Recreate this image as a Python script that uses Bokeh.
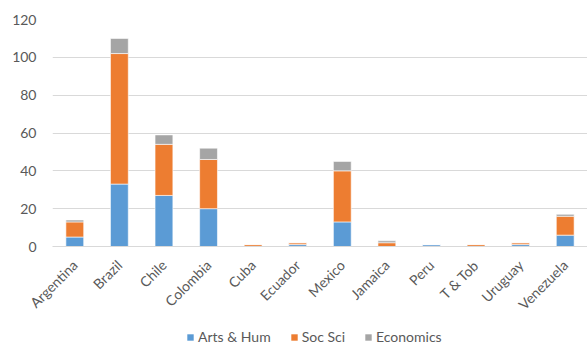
import math
from bokeh.plotting import figure
from bokeh.layouts import column
from bokeh.models import ColumnDataSource, FactorRange, Range1d, FixedTicker, Legend, LegendItem
from bokeh.embed import file_html
from bokeh.resources import INLINE

countries = ["Argentina", "Brazil", "Chile", "Colombia", "Cuba", "Ecuador",
             "Mexico", "Jamaica", "Peru", "T & Tob", "Uruguay", "Venezuela"]
arts_hum = [5, 33, 27, 20, 0, 1, 13, 0, 1, 0, 1, 6]
soc_sci = [8, 69, 27, 26, 1, 1, 27, 2, 0, 1, 1, 10]
economics = [1, 8, 5, 6, 0, 0, 5, 1, 0, 0, 0, 1]
series = ["Arts & Hum", "Soc Sci", "Economics"]
colors = ["#5B9BD5", "#ED7D31", "#A5A5A5"]
y_ticks = [0, 20, 40, 60, 80, 100, 120]

source = ColumnDataSource(data={
    "country": countries,
    "Arts & Hum": arts_hum,
    "Soc Sci": soc_sci,
    "Economics": economics,
})

FONT = "Lato"
TXT = "#595959"

p = figure(width=587, height=325, output_backend="svg", toolbar_location=None,
           x_range=FactorRange(*countries, range_padding=0),
           y_range=Range1d(0, 120),
           min_border_left=52, min_border_right=0, min_border_top=19,
           min_border_bottom=79)

p.vbar_stack(series, x="country", width=0.4, source=source,
             color=colors, line_color="white", line_width=0.6)

p.outline_line_color = None
p.background_fill_color = "white"
p.border_fill_color = "white"

p.xgrid.grid_line_color = None
p.ygrid.grid_line_color = "#D9D9D9"
p.ygrid.grid_line_width = 1

p.yaxis.ticker = FixedTicker(ticks=y_ticks)
p.yaxis.axis_line_color = None
p.yaxis.major_tick_line_color = None
p.yaxis.minor_tick_line_color = None
p.yaxis.major_label_standoff = 10
p.yaxis.major_label_text_font = FONT
p.yaxis.major_label_text_font_size = "14px"
p.yaxis.major_label_text_color = TXT

p.xaxis.axis_line_color = "#D9D9D9"
p.xaxis.major_tick_line_color = None
p.xaxis.minor_tick_line_color = None
p.xaxis.major_label_orientation = math.pi / 4
p.xaxis.major_label_standoff = 10
p.xaxis.major_label_text_font = FONT
p.xaxis.major_label_text_font_size = "14px"
p.xaxis.major_label_text_color = TXT

# legend strip (a separate small figure holding only the legend)
lg = figure(width=587, height=20, output_backend="svg", toolbar_location=None,
            x_axis_type=None, y_axis_type=None,
            x_range=Range1d(10, 11), y_range=Range1d(10, 11),
            min_border_left=0, min_border_right=0, min_border_top=0, min_border_bottom=0)
lg.outline_line_color = None
lg.xgrid.grid_line_color = None
lg.ygrid.grid_line_color = None
items = []
for s, c in zip(series, colors):
    r = lg.vbar(x=[0], top=[0], width=0.4, fill_color=c, line_color=c, line_alpha=0)
    items.append(LegendItem(label=s, renderers=[r]))
legend = Legend(items=items, orientation="horizontal", location=(134, 0),
                label_text_font=FONT, label_text_font_size="14px", label_text_color=TXT,
                glyph_width=8, glyph_height=8, spacing=19, label_standoff=4,
                label_height=14,
                border_line_color=None, background_fill_alpha=0, padding=0, margin=0)
lg.add_layout(legend)

layout = column(p, lg, spacing=0)
open("out.html", "w").write(file_html(layout, INLINE))
